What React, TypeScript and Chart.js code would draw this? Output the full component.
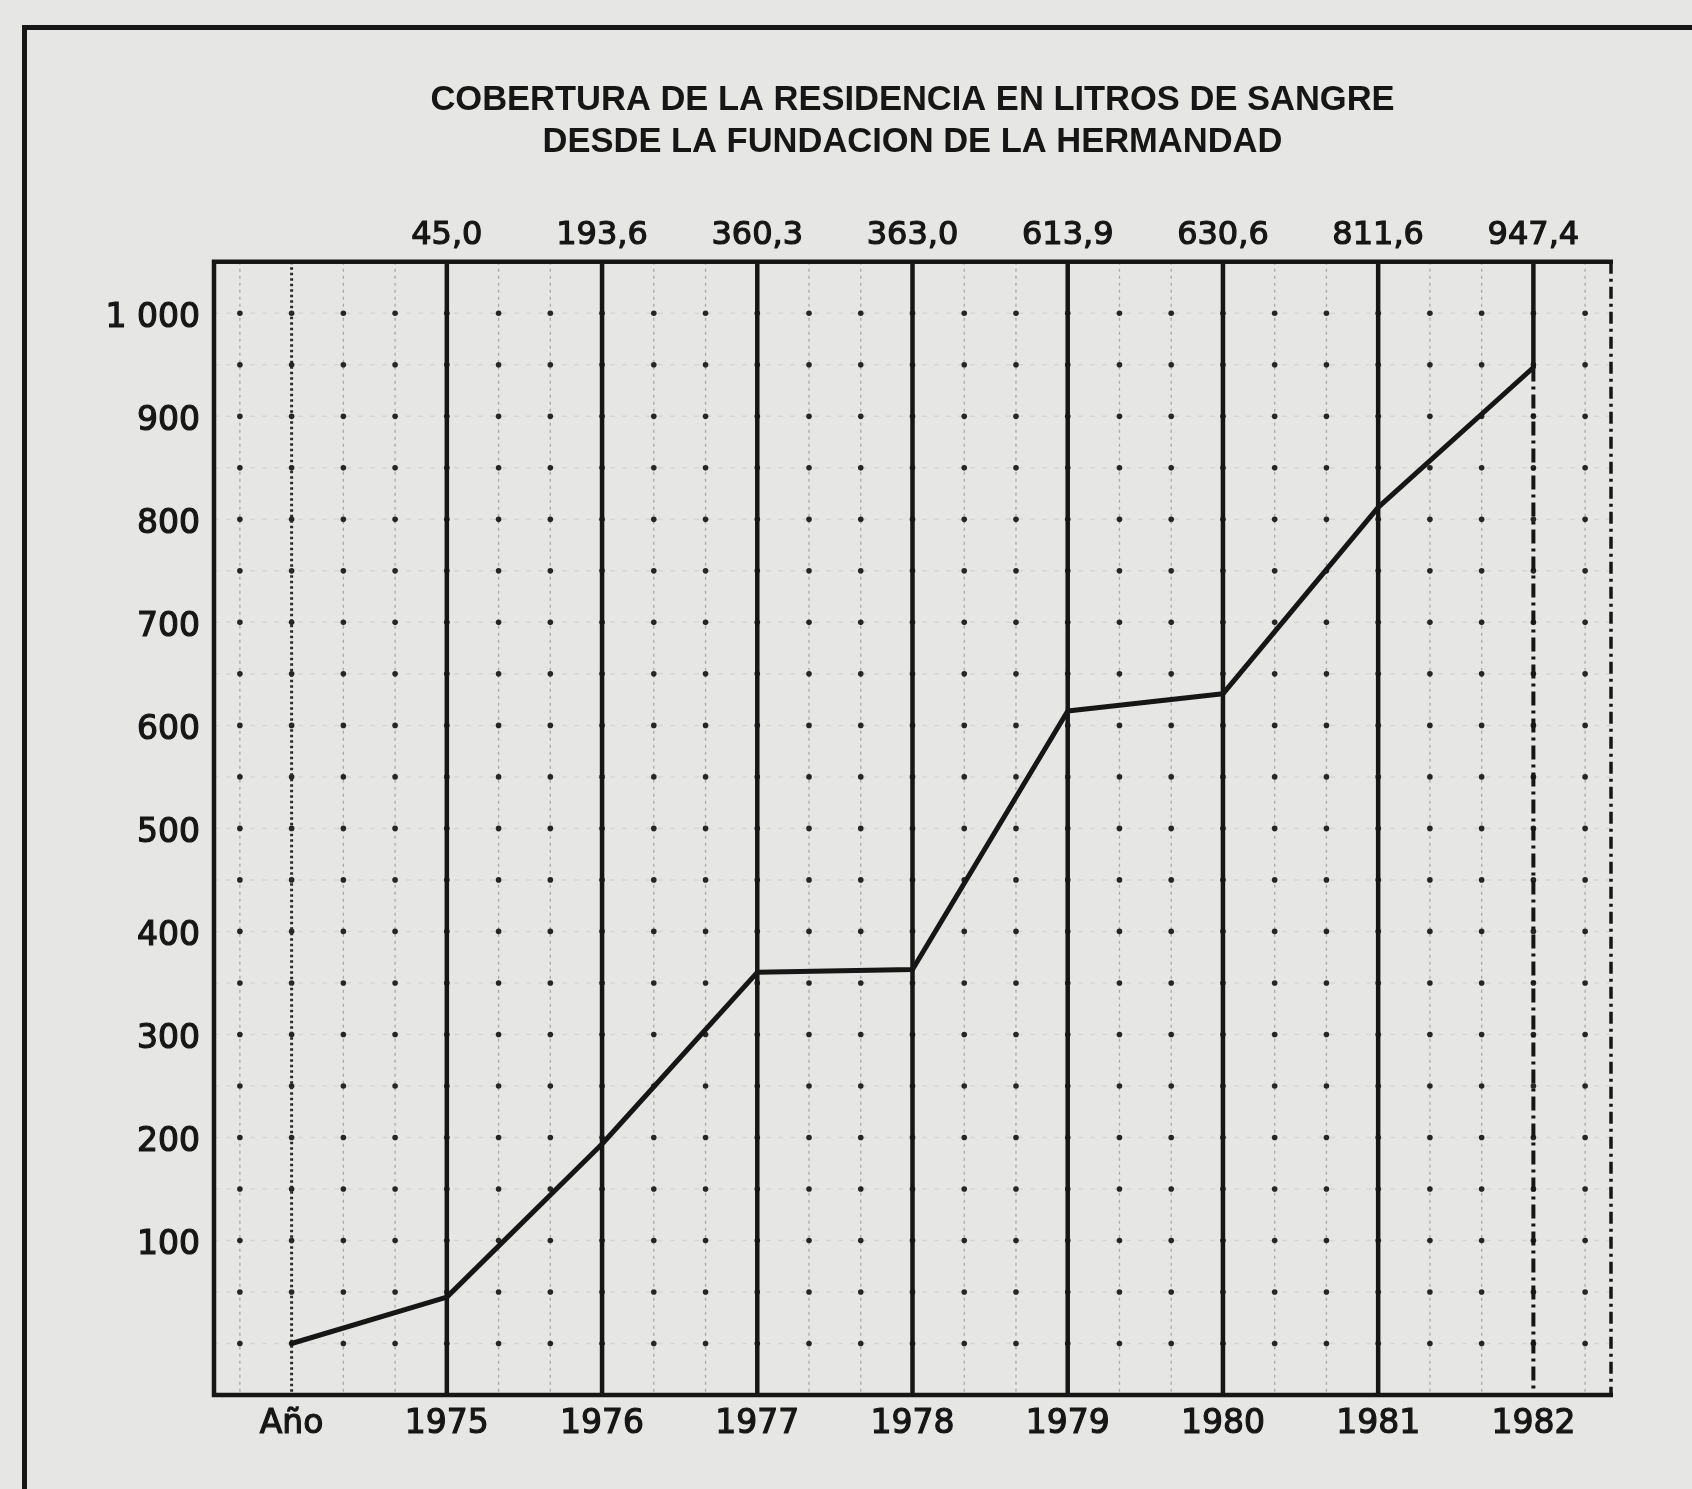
import React, { useEffect, useRef } from 'react';
import { Chart, registerables } from 'chart.js';

Chart.register(...registerables);

// ---- data ----
const TITLE_LINES = ['COBERTURA DE LA RESIDENCIA EN LITROS DE SANGRE', 'DESDE LA FUNDACION DE LA HERMANDAD'];
const YEARS = ['Año', '1975', '1976', '1977', '1978', '1979', '1980', '1981', '1982'];
const LITRES = [0, 45.0, 193.6, 360.3, 363.0, 613.9, 630.6, 811.6, 947.4];
const TOP_LABELS = ['', '45,0', '193,6', '360,3', '363,0', '613,9', '630,6', '811,6', '947,4'];
const Y_TICKS = [100, 200, 300, 400, 500, 600, 700, 800, 900, 1000];
const Y_TICK_LABELS = ['100', '200', '300', '400', '500', '600', '700', '800', '900', '1 000'];
const Y_MIN = -50;
const Y_MAX = 1050;
const DOT_STEP = 50;
const SUBDIV = 3;

const INK = '#161616';
const PAPER = '#e6e6e4';
const NUM_FONT = '"DejaVu Sans", sans-serif';

const paperGrid = {
  id: 'paperGrid',
  beforeDatasetsDraw(chart: any) {
    const { ctx, chartArea: a, scales } = chart;
    const xs = scales.x;
    const ys = scales.y;
    const n = YEARS.length;
    const step = xs.getPixelForValue(1) - xs.getPixelForValue(0);

    const rows: number[] = [];
    for (let v = Y_MIN + DOT_STEP; v < Y_MAX; v += DOT_STEP) rows.push(ys.getPixelForValue(v));
    const cols: { x: number; major: boolean; i: number }[] = [];
    for (let i = 0; i < n; i++) {
      for (let k = -1; k <= 1; k++) {
        cols.push({ x: xs.getPixelForValue(i) + (k * step) / SUBDIV, major: k === 0, i });
      }
    }

    ctx.save();
    // faint horizontal dashed rows
    ctx.strokeStyle = 'rgba(30,30,30,0.07)';
    ctx.lineWidth = 1.5;
    ctx.setLineDash([5, 7]);
    rows.forEach((y) => {
      ctx.beginPath();
      ctx.moveTo(a.left, y);
      ctx.lineTo(a.right, y);
      ctx.stroke();
    });
    // minor dotted verticals
    ctx.strokeStyle = 'rgba(30,30,30,0.3)';
    ctx.lineWidth = 1.3;
    ctx.setLineDash([3, 4]);
    cols
      .filter((c) => !c.major)
      .forEach((c) => {
        ctx.beginPath();
        ctx.moveTo(c.x, a.top);
        ctx.lineTo(c.x, a.bottom);
        ctx.stroke();
      });
    // dots at intersections
    ctx.setLineDash([]);
    ctx.fillStyle = '#262626';
    cols.forEach((c) =>
      rows.forEach((y) => {
        ctx.beginPath();
        ctx.arc(c.x, y, 2.8, 0, Math.PI * 2);
        ctx.fill();
      })
    );
    // major verticals
    cols
      .filter((c) => c.major)
      .forEach((c) => {
        ctx.strokeStyle = INK;
        if (c.i === 0) {
          ctx.lineWidth = 3;
          ctx.strokeStyle = '#2a2a2a';
          ctx.setLineDash([2.5, 3]);
          ctx.beginPath();
          ctx.moveTo(c.x, a.top);
          ctx.lineTo(c.x, a.bottom);
          ctx.stroke();
        } else if (c.i === n - 1) {
          const yEnd = ys.getPixelForValue(LITRES[n - 1]);
          ctx.lineWidth = 4.5;
          ctx.setLineDash([]);
          ctx.beginPath();
          ctx.moveTo(c.x, a.top);
          ctx.lineTo(c.x, yEnd);
          ctx.stroke();
          ctx.lineWidth = 4;
          ctx.setLineDash([14, 5, 3, 5]);
          ctx.beginPath();
          ctx.moveTo(c.x, yEnd);
          ctx.lineTo(c.x, a.bottom);
          ctx.stroke();
        } else {
          ctx.lineWidth = 4.5;
          ctx.setLineDash([]);
          ctx.beginPath();
          ctx.moveTo(c.x, a.top);
          ctx.lineTo(c.x, a.bottom);
          ctx.stroke();
        }
      });
    // plot frame: solid top, left, bottom; dash-dot right
    ctx.strokeStyle = INK;
    ctx.lineWidth = 4.5;
    ctx.setLineDash([]);
    ctx.beginPath();
    ctx.moveTo(a.right + 2, a.top);
    ctx.lineTo(a.left, a.top);
    ctx.lineTo(a.left, a.bottom);
    ctx.lineTo(a.right + 2, a.bottom);
    ctx.stroke();
    ctx.lineWidth = 3.5;
    ctx.setLineDash([12, 5, 3, 5]);
    ctx.beginPath();
    ctx.moveTo(a.right, a.top);
    ctx.lineTo(a.right, a.bottom);
    ctx.stroke();
    ctx.restore();
  },
};

export default function App() {
  const canvasRef = useRef<HTMLCanvasElement | null>(null);

  useEffect(() => {
    const canvas = canvasRef.current;
    if (!canvas) return;
    const chart = new Chart(canvas, {
      type: 'line',
      data: {
        labels: YEARS,
        datasets: [
          {
            data: LITRES,
            borderColor: INK,
            borderWidth: 5,
            pointRadius: 0,
            tension: 0,
            borderJoinStyle: 'round',
            borderCapStyle: 'round',
            fill: false,
          },
        ],
      },
      options: {
        responsive: false,
        animation: false,
        layout: { padding: { left: 0, right: 81, top: 0, bottom: 34 } },
        plugins: {
          legend: { display: false },
          tooltip: { enabled: false },
          title: {
            display: true,
            text: TITLE_LINES,
            fullSize: false,
            color: INK,
            font: { family: '"Liberation Sans", Arial, sans-serif', size: 34.5, weight: 'bold', lineHeight: 1.2 },
            padding: { top: 80, bottom: 7 },
          },
        },
        scales: {
          x: {
            type: 'category',
            position: 'bottom',
            offset: true,
            grid: { display: false, drawTicks: false },
            border: { display: false },
            ticks: {
              autoSkip: false,
              maxRotation: 0,
              padding: 10,
              color: INK,
              textStrokeColor: INK,
              textStrokeWidth: 1.2,
              font: { family: NUM_FONT, size: 33, lineHeight: 1.2 },
            },
            afterFit: (s: any) => {
              s.height = 60;
            },
          },
          x2: {
            type: 'category',
            labels: TOP_LABELS,
            position: 'top',
            offset: true,
            grid: { display: false, drawTicks: false },
            border: { display: false },
            ticks: {
              autoSkip: false,
              maxRotation: 0,
              padding: 7,
              color: INK,
              textStrokeColor: INK,
              textStrokeWidth: 1.2,
              font: { family: NUM_FONT, size: 32, lineHeight: 1.2 },
            },
            afterFit: (s: any) => {
              s.height = 92;
            },
          },
          y: {
            type: 'linear',
            min: Y_MIN,
            max: Y_MAX,
            grid: { display: false, drawTicks: false },
            border: { display: false },
            afterBuildTicks: (s: any) => {
              s.ticks = Y_TICKS.map((v) => ({ value: v }));
            },
            ticks: {
              autoSkip: false,
              padding: 14,
              labelOffset: 5,
              color: INK,
              textStrokeColor: INK,
              textStrokeWidth: 1.2,
              font: { family: NUM_FONT, size: 33, lineHeight: 1.2 },
              callback: (_v: any, idx: number) => Y_TICK_LABELS[idx],
            },
            afterFit: (s: any) => {
              s.width = 214;
            },
          },
        },
      },
      plugins: [paperGrid],
    } as any);
    return () => chart.destroy();
  }, []);

  return (
    <div
      style={{
        position: 'absolute',
        left: 0,
        top: 0,
        width: 1692,
        height: 1489,
        overflow: 'hidden',
        background: PAPER,
      }}
    >
      <div
        style={{
          position: 'absolute',
          left: 22,
          top: 25,
          width: 1692 - 22,
          height: 1489 - 25,
          borderTop: `5px solid ${INK}`,
          borderLeft: `5px solid ${INK}`,
          boxSizing: 'border-box',
        }}
      />
      <canvas ref={canvasRef} width={1692} height={1489} style={{ position: 'absolute', left: 0, top: 0 }} />
    </div>
  );
}
